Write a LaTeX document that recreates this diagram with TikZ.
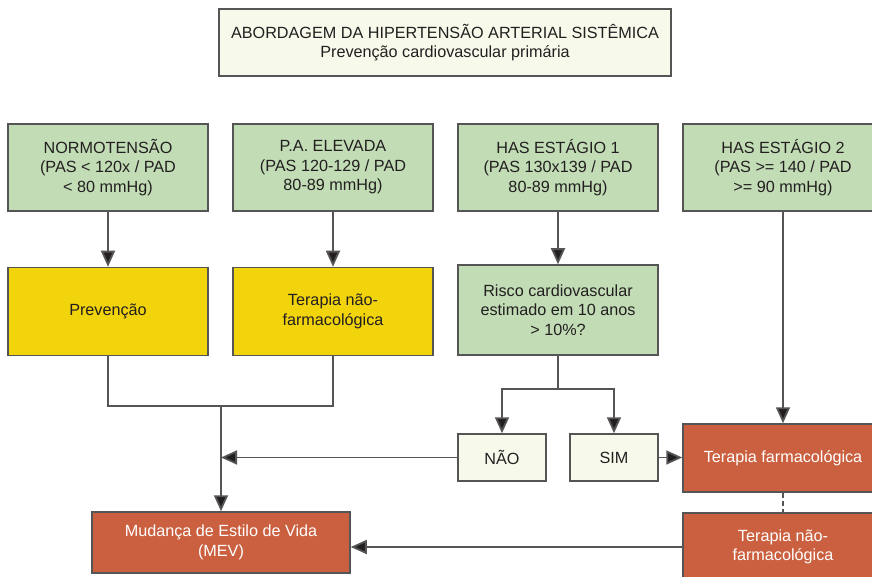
\documentclass[tikz,border=0pt]{standalone}
\usepackage{fontspec}
\setmainfont{Liberation Sans}
\usetikzlibrary{arrows.meta}
\definecolor{verde}{RGB}{194,221,182}
\definecolor{amarelo}{RGB}{242,212,12}
\definecolor{vermelho}{RGB}{203,96,64}
\definecolor{creme}{RGB}{247,249,234}
\definecolor{linha}{RGB}{85,85,85}
\definecolor{texto}{RGB}{35,31,32}
\begin{document}
\begin{tikzpicture}[
  x=1pt,y=-1pt,
  caixa/.style={draw=linha,line width=1.5pt,inner sep=0pt,align=center,
    text=texto,font=\fontsize{16.2}{19.5}\selectfont},
  verdebox/.style={caixa,fill=verde,minimum width=200pt,minimum height=87pt},
  amarelobox/.style={caixa,fill=amarelo,minimum width=200pt,minimum height=88pt},
  cremebox/.style={caixa,fill=creme},
  vermelhobox/.style={caixa,fill=vermelho,text=white},
  seta/.style={draw=linha,line width=1.8pt,-{Triangle[length=16pt,width=14pt,fill=texto]}},
  liga/.style={draw=linha,line width=1.8pt},
]
\useasboundingbox (0,0) rectangle (872,577);
\clip (0,0) rectangle (872,577);

% ----- Titulo -----
\node[cremebox,minimum width=452pt,minimum height=67pt] (titulo) at (445,42.5)
  {ABORDAGEM DA HIPERTENSÃO ARTERIAL SISTÊMICA\\Prevenção cardiovascular primária};

% ----- Classificacao -----
\node[verdebox] (normo) at (108,167.5) {NORMOTENSÃO\\(PAS < 120x / PAD\\< 80 mmHg)};
\node[verdebox] (elevada) at (333,167.5) {P.A. ELEVADA\\(PAS 120-129 / PAD\\80-89 mmHg)};
\node[verdebox] (has1) at (558,167.5) {HAS ESTÁGIO 1\\(PAS 130x139 / PAD\\80-89 mmHg)};
\node[verdebox] (has2) at (783,167.5) {HAS ESTÁGIO 2\\(PAS >= 140 / PAD\\>= 90 mmHg)};

% ----- Conduta -----
\node[amarelobox] (prev) at (108,311.5) {Prevenção};
\node[amarelobox] (terapia) at (333,311.5) {Terapia não-\\farmacológica};
\node[verdebox,minimum height=90pt] (risco) at (558,310)
  {Risco cardiovascular\\estimado em 10 anos\\> 10\%?};

\node[cremebox,minimum width=88pt,minimum height=47pt] (nao) at (502,457.5) {NÃO};
\node[cremebox,minimum width=88pt,minimum height=47pt] (sim) at (614,457.5) {SIM};

\node[vermelhobox,minimum width=200pt,minimum height=68pt] (farm) at (783,458)
  {Terapia farmacológica};
\node[vermelhobox,minimum width=200pt,minimum height=68pt] (naofarm) at (783,547)
  {Terapia não-\\farmacológica};
\node[vermelhobox,minimum width=258pt,minimum height=61pt] (mev) at (221,542.5)
  {Mudança de Estilo de Vida\\(MEV)};

% ----- Ligacoes -----
\coordinate (juncao) at (221,406);
\coordinate (ramo) at (558,389);

\draw[seta] (normo) -- (prev);
\draw[seta] (elevada) -- (terapia);
\draw[seta] (has1) -- (risco);
\draw[seta] (has2) -- (farm);

\draw[liga] (prev.south) |- (juncao) -| (terapia.south);
\draw[seta] (juncao) -- (mev.north);
\draw[seta] (nao.west) -- (nao.west -| juncao);

\draw[liga] (risco.south) -- (ramo);
\draw[seta] (ramo) -| (nao.north);
\draw[seta] (ramo) -| (sim.north);
\draw[seta] (sim.east) -- (farm.west |- sim.east);

\draw[liga,dashed,dash pattern=on 5pt off 3pt] (farm.south) -- (naofarm.north);
\draw[seta] (naofarm.west) -- (naofarm.west -| mev.east);

\end{tikzpicture}
\end{document}
